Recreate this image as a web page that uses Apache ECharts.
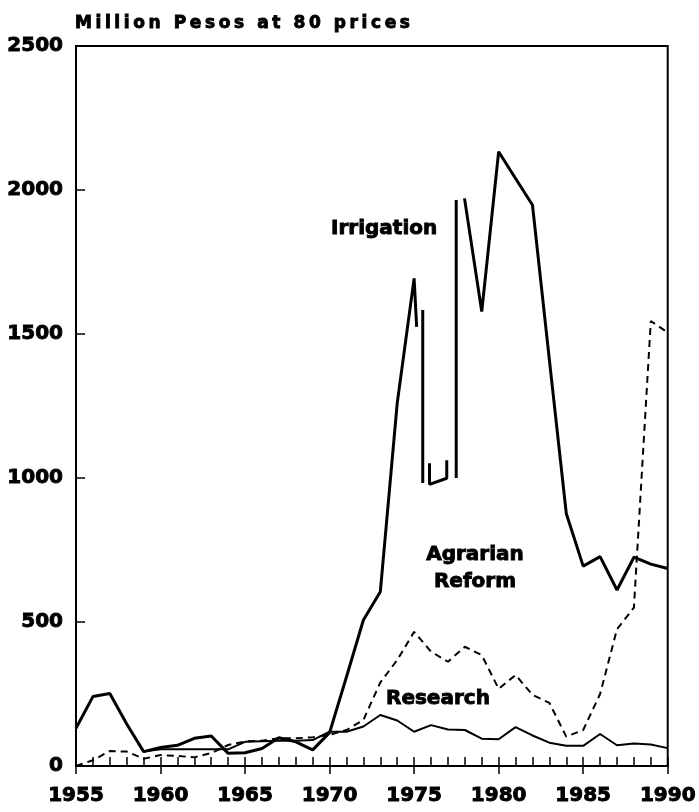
<!DOCTYPE html>
<html>
<head>
<meta charset="utf-8">
<title>Million Pesos at 80 prices</title>
<script src="https://cdn.jsdelivr.net/npm/echarts@6.0.0/dist/echarts.min.js"></script>
<style>
  html, body { margin: 0; padding: 0; background: #fff; }
  #chart { width: 699px; height: 812px; }
</style>
</head>
<body>
<div id="chart"></div>
<script>
// ---- data ----
const titleText = 'Million Pesos at 80 prices'
const yTicks = [0, 500, 1000, 1500, 2000, 2500]
const years = [1955, 1956, 1957, 1958, 1959, 1960, 1961, 1962, 1963, 1964, 1965, 1966,
  1967, 1968, 1969, 1970, 1971, 1972, 1973, 1974, 1975, 1976, 1977, 1978, 1979, 1980,
  1981, 1982, 1983, 1984, 1985, 1986, 1987, 1988, 1989, 1990]

const agrarianReform = [0, 20, 52, 50, 25, 38, 35, 30, 45, 73, 85, 88, 96, 96, 100, 108,
  125, 160, 290, 368, 466, 397, 362, 414, 385, 268, 316, 247, 219, 102, 125, 250, 475,
  550, 1545, 1505]

const research = ['-', '-', '-', '-', 50, 58, 58, 58, 58, 58, 84, 86, 88, 88, 90, 119,
  119, 137, 177, 158, 119, 142, 127, 125, 95, 93, 135, 106, 81, 70, 70, 111, 72, 78, 75, 62]

// irrigation was plotted with pen breaks in the late 70s, so it keeps its own x positions
const irrigationX = [1955, 1956, 1957, 1958, 1959, 1960, 1961, 1962, 1963, 1964, 1965,
  1966, 1967, 1968, 1969, 1970, 1971, 1972, 1973, 1974, 1975, 1975.15, 1975.3, 1975.51,
  1975.51, 1975.7, 1975.91, 1975.91, 1976.93, 1976.93, 1977.2, 1977.49, 1977.49, 1977.7,
  1977.98, 1979, 1980, 1981, 1982, 1983, 1984, 1985, 1986, 1987, 1988, 1989, 1990]
const irrigationY = [131, 241, 252, 146, 50, 64, 72, 96, 104, 44, 46, 61, 98, 84, 56, 116,
  310, 507, 605, 1260, 1693, 1525, '-', 1583, 983, '-', 1051, 978, 999, 1062, '-', 1000,
  1965, '-', 1971, 1578, 2133, 2040, 1948, 1410, 877, 694, 727, 611, 725, 701, 686]

// the original title is typed with wide letter spacing; canvas can do that natively
function withSpacing(orig) {
  return function (text, x, y, maxWidth) {
    if (text === titleText && 'letterSpacing' in this) {
      const old = this.letterSpacing
      this.letterSpacing = '3.6px'
      orig.call(this, text, x, y)
      this.letterSpacing = old
      return
    }
    return maxWidth === undefined ? orig.call(this, text, x, y) : orig.call(this, text, x, y, maxWidth)
  }
}
CanvasRenderingContext2D.prototype.fillText = withSpacing(CanvasRenderingContext2D.prototype.fillText)
CanvasRenderingContext2D.prototype.strokeText = withSpacing(CanvasRenderingContext2D.prototype.strokeText)

// ---- chart ----
const FONT = 'DejaVu Sans'
const chart = echarts.init(document.getElementById('chart'))

const toPairs = (xs, ys) => xs.map((x, i) => [x, ys[i]])
const tickStyle = { color: '#000', width: 1.5 }
// the plotter font is heavier than DejaVu Bold, a thin stroke fattens it up
const heavy = { textBorderColor: '#000', textBorderWidth: 0.9 }
const labelStyle = { font: `bold 20px "${FONT}"`, fill: '#000', stroke: '#000', lineWidth: 0.9 }

chart.setOption({
  animation: false,
  backgroundColor: '#fff',
  title: {
    text: titleText,
    left: 75,
    top: 15,
    padding: 0,
    textStyle: { fontFamily: FONT, fontWeight: 'bold', fontSize: 17, color: '#000', ...heavy },
  },
  grid: {
    left: 76,
    right: 31,
    top: 46,
    bottom: 46,
    show: true,
    borderColor: '#000',
    borderWidth: 2,
  },
  xAxis: [
    {
      type: 'value',
      min: 1955,
      max: 1990,
      interval: 5,
      axisLine: { show: true, lineStyle: { color: '#000', width: 2 } },
      axisTick: { show: true, inside: true, length: 9, lineStyle: tickStyle },
      minorTick: { show: true, splitNumber: 5, length: 9, lineStyle: tickStyle },
      axisLabel: {
        margin: 20,
        color: '#000',
        fontFamily: FONT,
        fontWeight: 'bold',
        fontSize: 20,
        ...heavy,
        formatter: (v) => String(v),
      },
      splitLine: { show: false },
    },
    {
      // 5-year ticks also poke below the axis
      type: 'value',
      min: 1955,
      max: 1990,
      interval: 5,
      position: 'bottom',
      axisLine: { show: false },
      axisTick: { show: true, inside: false, length: 8, lineStyle: tickStyle },
      axisLabel: { show: false },
      splitLine: { show: false },
    },
  ],
  yAxis: {
    type: 'value',
    min: 0,
    max: 2500,
    interval: 500,
    axisLine: { show: true, lineStyle: { color: '#000', width: 2 } },
    axisTick: { show: true, inside: true, length: 9, lineStyle: tickStyle },
    axisLabel: {
      margin: 13,
      color: '#000',
      fontFamily: FONT,
      fontWeight: 'bold',
      fontSize: 20,
      ...heavy,
      formatter: (v) => (yTicks.includes(v) ? String(v) : ''),
    },
    splitLine: { show: false },
  },
  graphic: [
    {
      type: 'text',
      x: 331,
      y: 219,
      style: { text: 'Irrigation', ...labelStyle },
    },
    {
      type: 'text',
      x: 475,
      y: 541,
      style: { text: 'Agrarian\nReform', ...labelStyle, align: 'center', lineHeight: 27 },
    },
    {
      type: 'text',
      x: 386,
      y: 689,
      style: { text: 'Research', ...labelStyle },
    },
  ],
  series: [
    {
      name: 'Irrigation',
      type: 'line',
      data: toPairs(irrigationX, irrigationY),
      showSymbol: false,
      connectNulls: false,
      lineStyle: { color: '#000', width: 3 },
      z: 3,
    },
    {
      name: 'Agrarian Reform',
      type: 'line',
      data: toPairs(years, agrarianReform),
      showSymbol: false,
      lineStyle: { color: '#000', width: 2, type: [7, 5] },
      z: 2,
    },
    {
      name: 'Research',
      type: 'line',
      data: toPairs(years, research),
      showSymbol: false,
      connectNulls: false,
      lineStyle: { color: '#000', width: 2 },
      z: 2,
    },
  ],
})
</script>
</body>
</html>
